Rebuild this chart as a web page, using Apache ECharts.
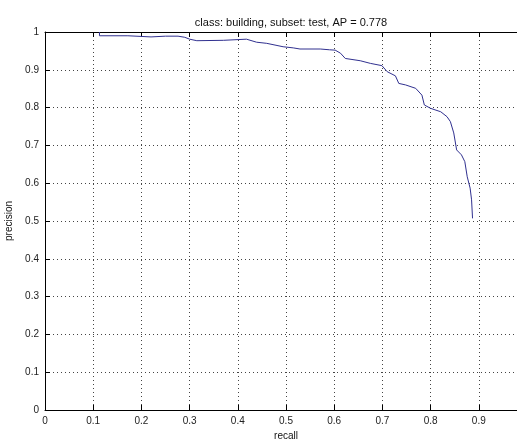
<!DOCTYPE html>
<html>
<head>
<meta charset="utf-8">
<script src="https://cdn.jsdelivr.net/npm/echarts@6/dist/echarts.min.js"></script>
<style>
  html, body { margin: 0; padding: 0; background: #fff; }
  #main { width: 517px; height: 440px; }
</style>
</head>
<body>
<div id="main"></div>
<script>
// precision / recall curve
var recall = [0.113, 0.113, 0.172, 0.172, 0.22, 0.25, 0.276, 0.29, 0.30, 0.315, 0.37, 0.418, 0.439,
  0.46, 0.494, 0.515, 0.529, 0.571, 0.59, 0.602, 0.613, 0.623, 0.654, 0.675, 0.699, 0.71, 0.727,
  0.734, 0.748, 0.769, 0.782, 0.787, 0.80, 0.821, 0.834, 0.841, 0.848, 0.854, 0.864, 0.871,
  0.876, 0.882, 0.885, 0.887];
var precision = [1.0, 0.990, 0.990, 0.985, 0.987, 0.989, 0.989, 0.986, 0.981, 0.977, 0.978, 0.981, 0.973,
  0.970, 0.961, 0.958, 0.955, 0.955, 0.953, 0.952, 0.944, 0.930, 0.924, 0.917, 0.911, 0.895, 0.884,
  0.864, 0.860, 0.851, 0.833, 0.807, 0.798, 0.789, 0.776, 0.763, 0.733, 0.688, 0.675, 0.657,
  0.617, 0.587, 0.556, 0.507];
var tickLabels = ['0', '0.1', '0.2', '0.3', '0.4', '0.5', '0.6', '0.7', '0.8', '0.9', '1'];

var points = [];
for (var i = 0; i < recall.length; i++) {
  points.push([recall[i], precision[i]]);
}

var myChart = echarts.init(document.getElementById('main'));
var font = 'Liberation Sans, Arial, sans-serif';

var gridLine = { show: true, lineStyle: { color: '#444', type: [1, 3], width: 1 } };
var tick = { show: true, inside: true, length: 5, lineStyle: { color: '#000' } };

option = {
  animation: false,
  backgroundColor: '#fff',
  title: {
    text: 'class: building, subset: test, AP = 0.778',
    left: 286,
    top: 12,
    textAlign: 'center',
    textStyle: { fontFamily: font, fontSize: 11, fontWeight: 'normal', color: '#111' }
  },
  grid: { left: 45, top: 32, width: 482, height: 378, containLabel: false, outerBoundsMode: 'none' },
  xAxis: [{
    type: 'value', min: 0, max: 1, interval: 0.1,
    name: 'recall', nameLocation: 'middle', nameGap: 19,
    nameTextStyle: { fontFamily: font, fontSize: 10, color: '#111' },
    axisLine: { show: true, lineStyle: { color: '#000', width: 1 } },
    axisTick: tick,
    axisLabel: {
      fontFamily: font, fontSize: 10, color: '#222', margin: 6,
      formatter: function (v) { return tickLabels[Math.round(v * 10)]; }
    },
    splitLine: gridLine
  }, {
    type: 'value', min: 0, max: 1, interval: 0.1, position: 'top',
    axisLine: { show: true, lineStyle: { color: '#000', width: 1 } },
    axisTick: tick,
    axisLabel: { show: false },
    splitLine: { show: false }
  }],
  yAxis: {
    type: 'value', min: 0, max: 1, interval: 0.1,
    name: 'precision', nameLocation: 'middle', nameGap: 26,
    nameTextStyle: { fontFamily: font, fontSize: 10, color: '#111' },
    axisLine: { show: true, lineStyle: { color: '#000', width: 1 } },
    axisTick: tick,
    axisLabel: {
      fontFamily: font, fontSize: 10, color: '#222', margin: 6,
      formatter: function (v) { return tickLabels[Math.round(v * 10)]; }
    },
    splitLine: gridLine
  },
  series: [{
    type: 'line',
    xAxisIndex: 0,
    data: points,
    showSymbol: false,
    lineStyle: { color: '#30308f', width: 1 },
    itemStyle: { color: '#30308f' }
  }]
};

if (option && typeof option === 'object') {
  myChart.setOption(option, true);
}

window.addEventListener('resize', function () {
  myChart.resize();
});
</script>
</body>
</html>
